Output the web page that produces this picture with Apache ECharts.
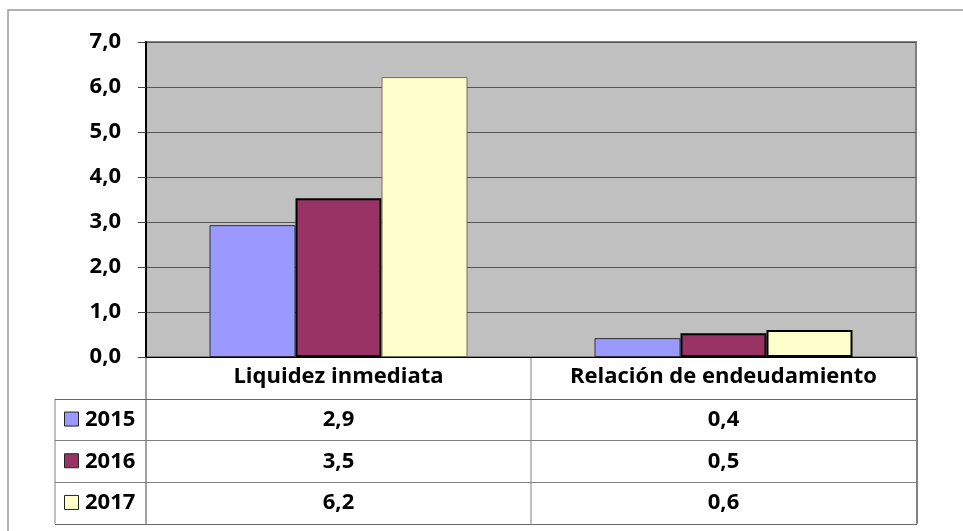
<!DOCTYPE html>
<html>
<head>
<meta charset="utf-8">
<script src="https://cdn.jsdelivr.net/npm/echarts@6/dist/echarts.min.js"></script>
<style>
  html, body { margin: 0; padding: 0; background: #fff; }
  #main { width: 963px; height: 531px; }
</style>
</head>
<body>
<div id="main"></div>
<script>
    var categorias = ['Liquidez inmediata', 'Relación de endeudamiento'];
    var anios = ['2015', '2016', '2017'];
    var valores2015 = [2.93, 0.42];
    var valores2016 = [3.53, 0.53];
    var valores2017 = [6.22, 0.60];
    var colores = ['#9999ff', '#993366', '#ffffcc'];
    var ticksY = ['0,0', '1,0', '2,0', '3,0', '4,0', '5,0', '6,0', '7,0'];

    var fuente = '"Open Sans", sans-serif';
    var tam = 22;
    var G = { left: 146, top: 42, right: 916, bottom: 357 };
    var filaH = 41.7;
    var colIzq = 55;

    function formato(v) {
        return v.toFixed(1).replace('.', ',');
    }

    var series = [];
    var todos = [valores2015, valores2016, valores2017];
    for (var i = 0; i < anios.length; i++) {
        var datos = [];
        for (var j = 0; j < todos[i].length; j++) {
            var item = { value: todos[i][j] };
            // Excel dibuja bordes distintos en cada barra
            if (i == 2 && j == 0) item.itemStyle = { borderColor: '#6e6e5a', borderWidth: 1 };
            datos.push(item);
        }
        series.push({
            name: anios[i],
            type: 'bar',
            data: datos,
            barWidth: 86,
            barGap: '0%',
            itemStyle: { color: colores[i], borderColor: i == 0 ? '#333' : '#000', borderWidth: i == 0 ? 1 : 2 }
        });
    }

    var myChart = echarts.init(document.getElementById('main'));
    myChart.setOption({
        animation: false,
        grid: {
            left: G.left, top: G.top, width: G.right - G.left, height: G.bottom - G.top,
            show: true, backgroundColor: '#c0c0c0', borderColor: '#808080', borderWidth: 2
        },
        xAxis: {
            type: 'category',
            data: categorias,
            axisLine: { show: true, lineStyle: { color: '#000', width: 1 } },
            axisTick: { show: false },
            axisLabel: { interval: 0, hideOverlap: false, margin: 9, fontFamily: fuente, fontWeight: 'bold', fontSize: tam, color: '#000' }
        },
        yAxis: {
            type: 'value',
            min: 0, max: 7, interval: 1,
            axisLine: { show: true, lineStyle: { color: '#000', width: 2 } },
            axisTick: { show: true, length: 8, lineStyle: { color: '#444' } },
            splitLine: { lineStyle: { color: '#555', width: 1 } },
            axisLabel: {
                margin: 25, fontFamily: fuente, fontWeight: 'bold', fontSize: tam, color: '#000',
                formatter: function (v) { return ticksY[Math.round(v)]; }
            }
        },
        series: series
    });

    // tabla de datos bajo el gráfico
    var graficos = [];
    var linea = '#808080';
    graficos.push({ type: 'rect', shape: { x: 8, y: 10, width: 1200, height: 700 },
        style: { fill: null, stroke: '#999', lineWidth: 1.5 }, z: 0 });

    var yTabla = G.bottom + filaH;
    var yFin = yTabla + filaH * anios.length;
    graficos.push({ type: 'line', shape: { x1: G.left, y1: G.bottom, x2: G.left, y2: yFin }, style: { stroke: '#444', lineWidth: 1 } });
    graficos.push({ type: 'line', shape: { x1: (G.left + G.right) / 2, y1: G.bottom, x2: (G.left + G.right) / 2, y2: yFin }, style: { stroke: linea, lineWidth: 1 } });
    graficos.push({ type: 'line', shape: { x1: G.right + 1, y1: G.bottom, x2: G.right + 1, y2: yFin }, style: { stroke: linea, lineWidth: 2 } });
    graficos.push({ type: 'line', shape: { x1: colIzq, y1: yTabla, x2: colIzq, y2: yFin }, style: { stroke: linea, lineWidth: 1 } });
    for (var r = 0; r <= anios.length; r++) {
        var yy = Math.round(yTabla + filaH * r) + 0.5;
        graficos.push({ type: 'line', shape: { x1: colIzq, y1: yy, x2: G.right + 1, y2: yy }, style: { stroke: r == 0 || r == anios.length ? '#666' : linea, lineWidth: 1 } });
    }
    for (var k = 0; k < anios.length; k++) {
        var yc = yTabla + filaH * k + filaH / 2;
        graficos.push({ type: 'rect', shape: { x: 64.5, y: yc - 7.5, width: 14, height: 14 },
            style: { fill: colores[k], stroke: '#222', lineWidth: 1 } });
        graficos.push({ type: 'text', x: 85, y: yc, style: { text: anios[k], fontFamily: fuente, fontWeight: 'bold', fontSize: tam,
            fill: '#000', verticalAlign: 'middle', align: 'left' } });
        for (var c = 0; c < categorias.length; c++) {
            var px = myChart.convertToPixel({ xAxisIndex: 0 }, categorias[c]);
            graficos.push({ type: 'text', x: px, y: yc, style: { text: formato(todos[k][c]), fontFamily: fuente, fontWeight: 'bold', fontSize: tam,
                fill: '#000', verticalAlign: 'middle', align: 'center' } });
        }
    }
    myChart.setOption({ graphic: graficos });
</script>
</body>
</html>
